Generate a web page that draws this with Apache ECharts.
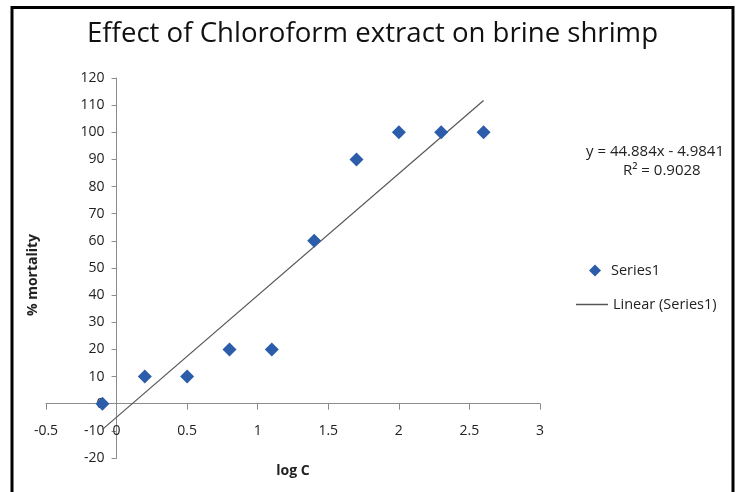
<!DOCTYPE html>
<html>
<head>
<meta charset="utf-8">
<script src="https://cdn.jsdelivr.net/npm/echarts@6/dist/echarts.min.js"></script>
<style>html,body{margin:0;padding:0;background:#fff;}#c{width:751px;height:492px;}</style>
</head>
<body>
<div id="c"></div>
<script>
const logC = [-0.1, 0.2, 0.5, 0.8, 1.1, 1.4, 1.7, 2.0, 2.3, 2.6];
const mortality = [0, 10, 10, 20, 20, 60, 90, 100, 100, 100];
const trendX = [-0.1, 2.6];
const trendY = [-9.47, 111.71];
const equationText = 'y = 44.884x - 4.9841';
const r2Text = 'R\u00b2 = 0.9028';
const titleText = 'Effect of Chloroform extract on brine shrimp';

const FONT = '"Open Sans", "Noto Sans", sans-serif';
const GL = 46, GR = 211, GT = 78, GB = 34;
const gridW = 751 - GL - GR, gridH = 492 - GT - GB;
const X_MIN = -0.5, X_MAX = 3, Y_MIN = -20, Y_MAX = 120;
// offsets that bring each axis onto the other axis's zero
const yAxisOffset = -((0 - X_MIN) / (X_MAX - X_MIN)) * gridW;
const xAxisOffset = -((0 - Y_MIN) / (Y_MAX - Y_MIN)) * gridH;

const chart = echarts.init(document.getElementById('c'), null, {renderer: 'canvas'});
chart.setOption({
  animation: false,
  backgroundColor: '#fff',
  title: {
    text: titleText, left: 82, top: 15,
    textStyle: {fontFamily: FONT, fontSize: 27.6, fontWeight: 'normal', color: '#111'}
  },
  grid: {left: GL, right: GR, top: GT, bottom: GB, containLabel: false, outerBoundsMode: 'none'},
  legend: [
    {
      orient: 'vertical', left: 584, top: 258, itemWidth: 12, itemHeight: 12,
      textStyle: {fontFamily: FONT, fontSize: 14.5, color: '#222', padding: [0, 0, 0, 5]},
      data: [{name: 'Series1', icon: 'diamond'}]
    },
    {
      orient: 'vertical', left: 571, top: 292, itemWidth: 32, itemHeight: 1.5,
      textStyle: {fontFamily: FONT, fontSize: 14.5, color: '#222'},
      itemStyle: {color: '#555'},
      data: [{name: 'Linear (Series1)', icon: 'rect'}]
    }
  ],
  xAxis: {
    type: 'value', min: X_MIN, max: X_MAX, interval: 0.5, offset: xAxisOffset,
    name: 'log C', nameLocation: 'middle', nameGap: 60,
    nameTextStyle: {fontFamily: FONT, fontSize: 14, fontWeight: 'bold', color: '#222'},
    axisLine: {onZero: false, lineStyle: {color: '#8c8c8c', width: 1}},
    axisTick: {show: true, length: 6, lineStyle: {color: '#8c8c8c'}},
    axisLabel: {margin: 20, fontFamily: FONT, fontSize: 14, color: '#222',
      formatter: v => String(v)},
    splitLine: {show: false}
  },
  yAxis: {
    type: 'value', min: Y_MIN, max: Y_MAX, interval: 10, offset: yAxisOffset,
    name: '% mortality', nameLocation: 'middle', nameGap: 77, nameRotate: 90,
    nameTextStyle: {fontFamily: FONT, fontSize: 14, fontWeight: 'bold', color: '#222', padding: [0, 14, 0, 0]},
    axisLine: {onZero: false, lineStyle: {color: '#8c8c8c', width: 1}},
    axisTick: {show: true, length: 5, lineStyle: {color: '#8c8c8c'}},
    axisLabel: {margin: 12, fontFamily: FONT, fontSize: 14, color: '#222'},
    splitLine: {show: false}
  },
  series: [
    {
      name: 'Series1', type: 'scatter', symbol: 'diamond', symbolSize: 14,
      itemStyle: {color: '#2b5daa', opacity: 1},
      data: logC.map((x, i) => [x, mortality[i]]), z: 3
    },
    {
      name: 'Linear (Series1)', type: 'line', symbol: 'none', showSymbol: false,
      lineStyle: {color: '#555', width: 1.2},
      itemStyle: {color: '#555'},
      data: trendX.map((x, i) => [x, trendY[i]]), z: 2
    }
  ],
  graphic: [
    {type: 'text', left: 586, top: 144,
      style: {text: equationText, font: '15px ' + FONT, fill: '#222'}},
    {type: 'text', left: 623, top: 163,
      style: {text: r2Text, font: '15px ' + FONT, fill: '#222'}},
    {type: 'polyline', z: 100,
      shape: {points: [[12, 492], [12, 7.5], [733, 7.5], [733, 492]]},
      style: {stroke: '#000', lineWidth: 3, fill: null}}
  ]
});
</script>
</body>
</html>
